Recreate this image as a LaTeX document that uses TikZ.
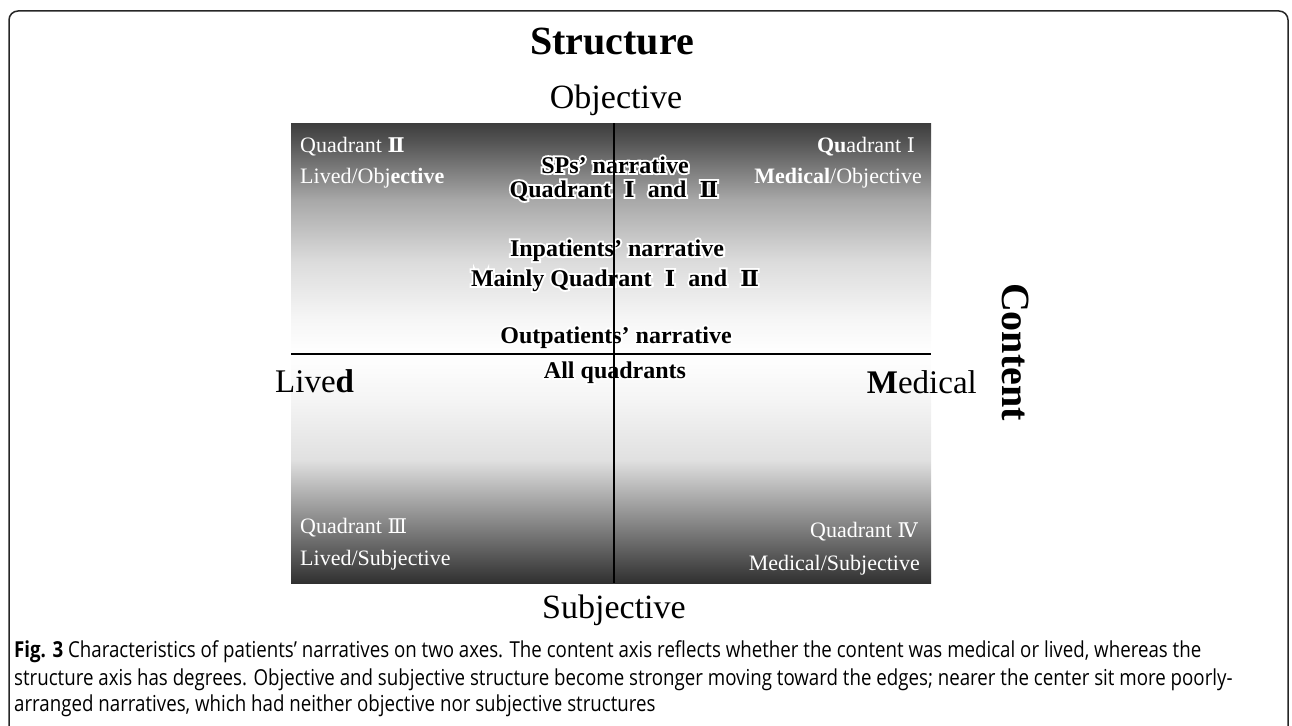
\documentclass[tikz,border=0pt]{standalone}
\usepackage{fontspec}
\setmainfont{Liberation Serif}
\newfontfamily\capfont[FakeStretch=0.85]{Open Sans}
\newfontfamily\romanfont[Scale=0.92]{DejaVu Serif}
\newfontfamily\glowfont[FakeBold=16, BoldFeatures={FakeBold=16}]{Liberation Serif}
\newfontfamily\romanglowfont[Scale=0.92, FakeBold=16]{DejaVu Serif}
\usepackage{tikz}
\usepackage{xcolor}

\definecolor{edgegray}{gray}{0.19}
\definecolor{lowgray}{gray}{0.54}
\definecolor{softgray}{gray}{0.88}
\definecolor{palegray}{gray}{0.96}
\definecolor{uppale}{gray}{0.86}
\definecolor{upmid}{gray}{0.66}
\definecolor{updark}{gray}{0.33}
\definecolor{topgray}{gray}{0.24}
\pgfdeclareverticalshading{quadshade}{100bp}{color(0bp)=(edgegray); color(25bp)=(edgegray); color(31.8bp)=(lowgray); color(38.4bp)=(softgray); color(45bp)=(palegray); color(50bp)=(white); color(54bp)=(palegray); color(60bp)=(uppale); color(66.6bp)=(upmid); color(73bp)=(updark); color(75bp)=(topgray); color(100bp)=(topgray)}

\newcommand{\gap}{\hspace{0.55em}}
\newcommand{\rn}[1]{{\romanfont #1}}

\begin{document}
\begin{tikzpicture}[x=1pt, y=-1pt]
    % Define styles
    \tikzstyle{quadlabel} = [inner sep=0pt, text=white, font=\fontsize{22}{26}\selectfont, anchor=base west]
    \tikzstyle{quadlabelright} = [quadlabel, anchor=base east]
    \tikzstyle{narrative} = [inner sep=0pt, anchor=base, font=\fontsize{24}{28}\selectfont\bfseries]
    \tikzstyle{glow} = [narrative, text=white, font=\glowfont\fontsize{24}{28}\selectfont\bfseries\let\romanfont\romanglowfont]
    \tikzstyle{axislabel} = [inner sep=0pt, anchor=base, font=\fontsize{34}{40}\selectfont]
    \tikzstyle{sidelabel} = [inner sep=0pt, font=\fontsize{33}{40}\selectfont]
    \tikzstyle{heading} = [inner sep=0pt, font=\fontsize{40}{48}\selectfont\bfseries]
    \tikzstyle{axis} = [line width=2pt, black]
    \tikzstyle{caption} = [inner sep=0pt, anchor=base west, font=\capfont\fontsize{22}{27}\selectfont]

    \useasboundingbox (0,0) rectangle (1292,725);

    % Frame and shaded field
    \draw[line width=1.5pt, rounded corners=9pt, black!85] (9,11) rectangle (1288,740);
    \shade[shading=quadshade] (291,123) rectangle (931,583);

    % Axis ends
    \coordinate (objend) at (614,123);
    \coordinate (subjend) at (614,583);
    \coordinate (livedend) at (291,354);
    \coordinate (medend) at (931,354);

    % Headings and axis names
    \node (structure) [heading, anchor=base] at (612,55) {Structure};
    \node (content) [heading, rotate=-90] at (1016,352) {Content};
    \node (objective) [axislabel] at (616,108) {Objective};
    \node (subjective) [axislabel] at (614,618) {Subjective};
    \node (lived) [sidelabel, anchor=base west] at (275,392) {Live\textbf{d}};
    \node (medical) [sidelabel, anchor=base east] at (977,393) {\textbf{M}edical};

    % Quadrant labels
    \node (q2) [quadlabel] at (300,152) {Quadrant \rn{\bfseries Ⅱ}};
    \node (q2sub) [quadlabel] at (300,183) {Lived/Obj\textbf{ective}};
    \node (q1) [quadlabelright] at (915,152) {\textbf{Qu}adrant \rn{Ⅰ}};
    \node (q1sub) [quadlabelright] at (922,183) {\textbf{Medical}/Objective};
    \node (q3) [quadlabel] at (300,533) {Quadrant \rn{Ⅲ}};
    \node (q3sub) [quadlabel] at (300,565) {Lived/Subjective};
    \node (q4) [quadlabelright] at (918,537) {Quadrant \rn{Ⅳ}};
    \node (q4sub) [quadlabelright] at (920,570) {Medical/Subjective};

    % Narratives: white halo first, black text on top
    \node (spsglow) [glow] at (615,173) {SPs’ narrative};
    \node (sps) [narrative] at (615,173) {SPs’ narrative};
    \node (spsqglow) [glow] at (614,197) {Quadrant\gap\rn{Ⅰ}\gap and\gap\rn{Ⅱ}};
    \node (spsq) [narrative] at (614,197) {Quadrant\gap\rn{Ⅰ}\gap and\gap\rn{Ⅱ}};
    \node (inpatglow) [glow] at (617,256) {Inpatients’ narrative};
    \node (inpat) [narrative] at (617,256) {Inpatients’ narrative};
    \node (inpatqglow) [glow] at (615,286) {Mainly Quadrant\gap\rn{Ⅰ}\gap and\gap\rn{Ⅱ}};
    \node (inpatq) [narrative] at (615,286) {Mainly Quadrant\gap\rn{Ⅰ}\gap and\gap\rn{Ⅱ}};
    \node (outpatglow) [glow] at (616,343) {Outpatients’ narrative};
    \node (outpat) [narrative] at (616,343) {Outpatients’ narrative};
    \node (outpatqglow) [glow] at (615,378) {All quadrants};
    \node (outpatq) [narrative] at (615,378) {All quadrants};

    % Axes
    \draw [axis] (objend) -- (subjend);
    \draw [axis] (livedend) -- (medend);

    % Caption
    \node (cap1) [caption] at (14,657) {\textbf{Fig. 3} Characteristics of patients’ narratives on two axes. The content axis reflects whether the content was medical or lived, whereas the};
    \node (cap2) [caption] at (14,685) {structure axis has degrees. Objective and subjective structure become stronger moving toward the edges; nearer the center sit more poorly-};
    \node (cap3) [caption] at (14,711) {arranged narratives, which had neither objective nor subjective structures};
\end{tikzpicture}
\end{document}
